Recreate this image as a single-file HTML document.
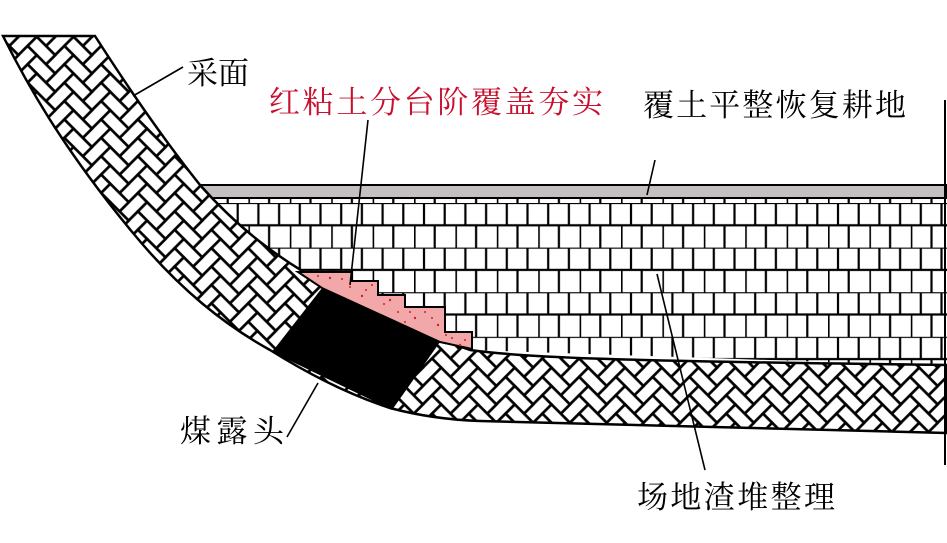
<!DOCTYPE html>
<html><head><meta charset="utf-8"><style>
html,body{margin:0;padding:0;background:#fff;}
svg{display:block;}
text{font-family:"Liberation Serif","Noto Serif CJK SC",serif;font-size:31px;}
</style></head><body>
<svg width="947" height="543" viewBox="0 0 947 543" xmlns="http://www.w3.org/2000/svg">
<defs>
<g id="chain" fill="#fff" stroke="#000" stroke-width="2.6">
<rect x="-26" y="-26" width="26" height="13"/><rect x="-26" y="-13" width="13" height="26"/>
<rect x="-13" y="-13" width="26" height="13"/><rect x="-13" y="0" width="13" height="26"/>
<rect x="0" y="0" width="26" height="13"/><rect x="0" y="13" width="13" height="26"/>
<rect x="13" y="13" width="26" height="13"/><rect x="13" y="26" width="13" height="26"/>
<rect x="26" y="26" width="26" height="13"/><rect x="26" y="39" width="13" height="26"/>
<rect x="39" y="39" width="26" height="13"/><rect x="39" y="52" width="13" height="26"/>
<rect x="52" y="52" width="26" height="13"/><rect x="52" y="65" width="13" height="26"/>
</g>
<pattern id="hb" width="52" height="52" patternUnits="userSpaceOnUse" patternTransform="rotate(45)">
<rect width="52" height="52" fill="#fff"/>
<use href="#chain" transform="translate(0,-104)"/>
<use href="#chain" transform="translate(0,-52)"/>
<use href="#chain"/>
<use href="#chain" transform="translate(0,52)"/>
</pattern>
<pattern id="br" width="41.4" height="44.6" patternUnits="userSpaceOnUse" x="0" y="203">
<rect width="41.4" height="44.6" fill="#fff"/>
<g fill="none" stroke="#000" stroke-width="2.2">
<line x1="0" y1="0" x2="41.4" y2="0"/><line x1="0" y1="22.3" x2="41.4" y2="22.3"/>
<line x1="10" y1="0" x2="10" y2="22.3"/><line x1="30.7" y1="0" x2="30.7" y2="22.3"/>
<line x1="0.5" y1="22.3" x2="0.5" y2="44.6"/><line x1="20.7" y1="22.3" x2="20.7" y2="44.6"/>
</g>
</pattern>
</defs>

<polygon points="200,198 947,198 947,366 470,350 440,340 380,312 330,287 300,270 250,235 200,185" fill="url(#br)"/>
<rect x="200" y="185" width="747" height="13" fill="#c4c0c0" stroke="#000" stroke-width="2"/>

<path d="M3,36 L95,36 C120,75 160,135 200,185 C240,230 280,260 330,287 C370,308 410,330 470,350 C520,357 600,361 947,365 L947,433 L480,421 C450,420 420,416 390,408 C350,395 310,375 270,350 C225,325 180,290 133,233 C60,145 25,80 3,36 Z" fill="url(#hb)" stroke="#000" stroke-width="2.5"/>

<polygon points="298,272 352,272 352,281 378,281 378,295 405,295 405,307 445,307 445,332 472,332 472,349 440,342 322,288" fill="#f2a8a8" stroke="#000" stroke-width="2"/>
<g fill="#d0202a">
<circle cx="330" cy="278" r="1.2"/><circle cx="350" cy="287" r="1"/><circle cx="362" cy="296" r="1.2"/><circle cx="372" cy="285" r="1"/>
<circle cx="390" cy="300" r="1.2"/><circle cx="398" cy="312" r="1"/><circle cx="415" cy="318" r="1.2"/><circle cx="425" cy="312" r="1"/>
<circle cx="438" cy="325" r="1.2"/><circle cx="452" cy="338" r="1"/><circle cx="460" cy="345" r="1.2"/><circle cx="342" cy="279" r="1"/>
<circle cx="318" cy="276" r="1"/><circle cx="366" cy="290" r="1"/><circle cx="384" cy="304" r="1"/><circle cx="410" cy="312" r="1"/>
<circle cx="432" cy="318" r="1"/><circle cx="446" cy="335" r="1"/><circle cx="465" cy="340" r="1"/><circle cx="405" cy="322" r="1"/>
</g>

<polygon points="322,288 440,342 392,410 272,352" fill="#000"/>

<line x1="945" y1="100" x2="945" y2="465" stroke="#000" stroke-width="2"/>

<g stroke="#000" stroke-width="1.6" fill="none">
<line x1="183" y1="67" x2="133" y2="96"/>
<line x1="368" y1="120" x2="350" y2="285"/>
<line x1="655" y1="160" x2="647" y2="195"/>
<line x1="657" y1="274" x2="705" y2="470"/>
<line x1="318" y1="383" x2="287" y2="437"/>
</g>

<text x="187" y="84">采面</text>
<text x="269" y="113" fill="#c8102e" textLength="334">红粘土分台阶覆盖夯实</text>
<text x="643" y="116" textLength="263">覆土平整恢复耕地</text>
<text x="180" y="442" textLength="104">煤露头</text>
<text x="637" y="508" textLength="198">场地渣堆整理</text>
</svg>
</body></html>
